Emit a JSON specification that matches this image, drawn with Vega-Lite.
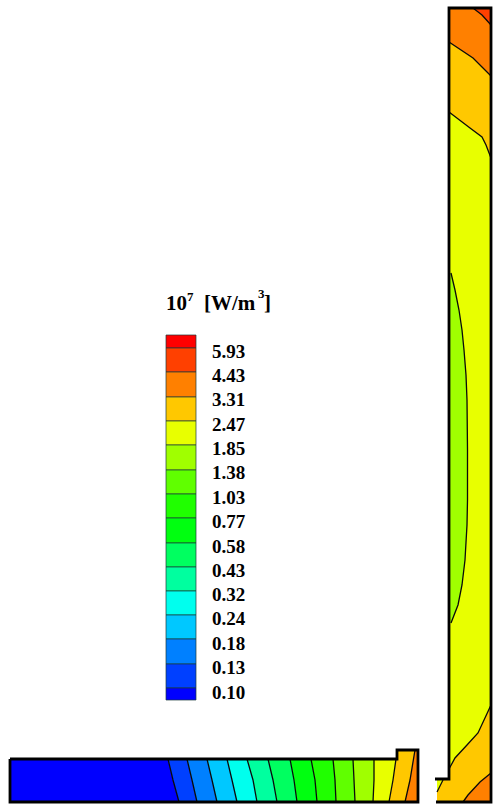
{
"$schema":"https://vega.github.io/schema/vega-lite/v6.json",
"width":493,"height":809,"padding":0,
"autosize":{"type":"none"},
"background":"white",
"config":{"view":{"stroke":null},"axis":{"disable":true}},
"datasets":{
"legendBands":[
{"level":"5.93+","x0":166,"x1":196,"y0":335,"y1":348},
{"level":"4.43","x0":166,"x1":196,"y0":348,"y1":372},
{"level":"3.31","x0":166,"x1":196,"y0":372,"y1":397},
{"level":"2.47","x0":166,"x1":196,"y0":397,"y1":421},
{"level":"1.85","x0":166,"x1":196,"y0":421,"y1":445},
{"level":"1.38","x0":166,"x1":196,"y0":445,"y1":470},
{"level":"1.03","x0":166,"x1":196,"y0":470,"y1":494},
{"level":"0.77","x0":166,"x1":196,"y0":494,"y1":518},
{"level":"0.58","x0":166,"x1":196,"y0":518,"y1":543},
{"level":"0.43","x0":166,"x1":196,"y0":543,"y1":567},
{"level":"0.32","x0":166,"x1":196,"y0":567,"y1":591},
{"level":"0.24","x0":166,"x1":196,"y0":591,"y1":615},
{"level":"0.18","x0":166,"x1":196,"y0":615,"y1":639},
{"level":"0.13","x0":166,"x1":196,"y0":639,"y1":664},
{"level":"0.10","x0":166,"x1":196,"y0":664,"y1":688},
{"level":"0.00","x0":166,"x1":196,"y0":688,"y1":700}
],
"legendLabels":[
{"t":"5.93","x":212,"y":352},{"t":"4.43","x":212,"y":376},{"t":"3.31","x":212,"y":400},{"t":"2.47","x":212,"y":425},
{"t":"1.85","x":212,"y":449},{"t":"1.38","x":212,"y":473},{"t":"1.03","x":212,"y":498},{"t":"0.77","x":212,"y":522},
{"t":"0.58","x":212,"y":547},{"t":"0.43","x":212,"y":571},{"t":"0.32","x":212,"y":595},{"t":"0.24","x":212,"y":619},
{"t":"0.18","x":212,"y":644},{"t":"0.13","x":212,"y":668},{"t":"0.10","x":212,"y":693}
],
"titleMain":[{"t":"10","x":166,"y":310},{"t":"[W/m","x":204,"y":310},{"t":"]","x":264,"y":310}],
"titleSup":[{"t":"7","x":187,"y":301},{"t":"3","x":258,"y":298}],
"rects":[
{"level":"1.85","x0":449,"x1":491,"y0":8,"y1":802},
{"level":"1.85","x0":437,"x1":449,"y0":779,"y1":802}
],
"bottomBands":[
{"level":"0.00","y":759,"x":10,"x2":168},{"level":"0.00","y":780,"x":10,"x2":173},{"level":"0.00","y":802,"x":10,"x2":179},
{"level":"0.10","y":759,"x":168,"x2":187},{"level":"0.10","y":780,"x":173,"x2":192},{"level":"0.10","y":802,"x":179,"x2":197},
{"level":"0.13","y":759,"x":187,"x2":207},{"level":"0.13","y":780,"x":192,"x2":212},{"level":"0.13","y":802,"x":197,"x2":217},
{"level":"0.18","y":759,"x":207,"x2":227},{"level":"0.18","y":780,"x":212,"x2":232},{"level":"0.18","y":802,"x":217,"x2":237},
{"level":"0.24","y":759,"x":227,"x2":247},{"level":"0.24","y":780,"x":232,"x2":253},{"level":"0.24","y":802,"x":237,"x2":257},
{"level":"0.32","y":759,"x":247,"x2":268},{"level":"0.32","y":780,"x":253,"x2":273},{"level":"0.32","y":802,"x":257,"x2":277},
{"level":"0.43","y":759,"x":268,"x2":290},{"level":"0.43","y":780,"x":273,"x2":294},{"level":"0.43","y":802,"x":277,"x2":297},
{"level":"0.58","y":759,"x":290,"x2":311},{"level":"0.58","y":780,"x":294,"x2":315},{"level":"0.58","y":802,"x":297,"x2":317},
{"level":"0.77","y":759,"x":311,"x2":333},{"level":"0.77","y":780,"x":315,"x2":335},{"level":"0.77","y":802,"x":317,"x2":336},
{"level":"1.03","y":759,"x":333,"x2":353},{"level":"1.03","y":780,"x":335,"x2":354},{"level":"1.03","y":802,"x":336,"x2":355},
{"level":"1.38","y":759,"x":353,"x2":374},{"level":"1.38","y":780,"x":354,"x2":374},{"level":"1.38","y":802,"x":355,"x2":373},
{"level":"1.85","y":759,"x":374,"x2":396},{"level":"1.85","y":780,"x":374,"x2":393},{"level":"1.85","y":802,"x":373,"x2":389},
{"level":"2.47","y":750,"x":398,"x2":415},{"level":"2.47","y":759,"x":396,"x2":413},{"level":"2.47","y":780,"x":393,"x2":410},{"level":"2.47","y":802,"x":389,"x2":405},
{"level":"3.31","y":750,"x":415,"x2":418},{"level":"3.31","y":759,"x":413,"x2":418},{"level":"3.31","y":780,"x":410,"x2":418},{"level":"3.31","y":802,"x":405,"x2":418}
],
"columnBands":[
{"level":"4.43","part":"a","x":473,"y":8,"y2":8},{"level":"4.43","part":"a","x":482,"y":8,"y2":15},{"level":"4.43","part":"a","x":491,"y":8,"y2":25},
{"level":"3.31","part":"a","x":449,"y":8,"y2":42},{"level":"3.31","part":"a","x":473,"y":8,"y2":58},{"level":"3.31","part":"a","x":482,"y":15,"y2":67},{"level":"3.31","part":"a","x":491,"y":25,"y2":76},
{"level":"2.47","part":"a","x":449,"y":42,"y2":112},{"level":"2.47","part":"a","x":470,"y":56,"y2":128},{"level":"2.47","part":"a","x":473,"y":58,"y2":130},{"level":"2.47","part":"a","x":482,"y":67,"y2":137},{"level":"2.47","part":"a","x":486,"y":71,"y2":145},{"level":"2.47","part":"a","x":491,"y":76,"y2":158},
{"level":"2.47","part":"b","x":437,"y":792,"y2":802},{"level":"2.47","part":"b","x":443,"y":780,"y2":802},{"level":"2.47","part":"b","x":449,"y":780,"y2":802},
{"level":"2.47","part":"c","x":449,"y":769,"y2":802},{"level":"2.47","part":"c","x":455,"y":758,"y2":802},{"level":"2.47","part":"c","x":467,"y":745,"y2":802},{"level":"2.47","part":"c","x":478,"y":733,"y2":802},{"level":"2.47","part":"c","x":491,"y":705,"y2":802},
{"level":"3.31","part":"d","x":463,"y":802,"y2":802},{"level":"3.31","part":"d","x":468,"y":795,"y2":802},{"level":"3.31","part":"d","x":480,"y":782,"y2":802},{"level":"3.31","part":"d","x":491,"y":773,"y2":802}
],
"lens":[
{"level":"1.38","y":273,"x":449,"x2":451},{"level":"1.38","y":290,"x":449,"x2":455},{"level":"1.38","y":310,"x":449,"x2":459},{"level":"1.38","y":330,"x":449,"x2":462},{"level":"1.38","y":350,"x":449,"x2":464},{"level":"1.38","y":375,"x":449,"x2":466},{"level":"1.38","y":400,"x":449,"x2":467},{"level":"1.38","y":450,"x":449,"x2":467.5},{"level":"1.38","y":500,"x":449,"x2":467.5},{"level":"1.38","y":525,"x":449,"x2":467},{"level":"1.38","y":560,"x":449,"x2":465},{"level":"1.38","y":585,"x":449,"x2":462},{"level":"1.38","y":605,"x":449,"x2":458},{"level":"1.38","y":623,"x":449,"x2":451}
],
"contours":[
{"id":"c1","o":1,"x":473,"y":8},{"id":"c1","o":2,"x":482,"y":15},{"id":"c1","o":3,"x":491,"y":25},
{"id":"c2","o":1,"x":449,"y":42},{"id":"c2","o":2,"x":473,"y":58},{"id":"c2","o":3,"x":482,"y":67},{"id":"c2","o":4,"x":491,"y":76},
{"id":"c3","o":1,"x":449,"y":112},{"id":"c3","o":2,"x":470,"y":128},{"id":"c3","o":3,"x":482,"y":137},{"id":"c3","o":4,"x":486,"y":145},{"id":"c3","o":5,"x":491,"y":158},
{"id":"c4","o":1,"x":451,"y":273},{"id":"c4","o":2,"x":455,"y":290},{"id":"c4","o":3,"x":459,"y":310},{"id":"c4","o":4,"x":462,"y":330},{"id":"c4","o":5,"x":464,"y":350},{"id":"c4","o":6,"x":466,"y":375},{"id":"c4","o":7,"x":467,"y":400},{"id":"c4","o":8,"x":467.5,"y":450},{"id":"c4","o":9,"x":467.5,"y":500},{"id":"c4","o":10,"x":467,"y":525},{"id":"c4","o":11,"x":465,"y":560},{"id":"c4","o":12,"x":462,"y":585},{"id":"c4","o":13,"x":458,"y":605},{"id":"c4","o":14,"x":451,"y":623},
{"id":"c5","o":1,"x":449,"y":769},{"id":"c5","o":2,"x":455,"y":758},{"id":"c5","o":3,"x":467,"y":745},{"id":"c5","o":4,"x":478,"y":733},{"id":"c5","o":5,"x":491,"y":705},
{"id":"c6","o":1,"x":437,"y":792},{"id":"c6","o":2,"x":443,"y":780},
{"id":"c7","o":1,"x":463,"y":802},{"id":"c7","o":2,"x":468,"y":795},{"id":"c7","o":3,"x":480,"y":782},{"id":"c7","o":4,"x":491,"y":773},
{"id":"b1","o":1,"x":168,"y":759},{"id":"b1","o":2,"x":173,"y":780},{"id":"b1","o":3,"x":179,"y":802},
{"id":"b2","o":1,"x":187,"y":759},{"id":"b2","o":2,"x":192,"y":780},{"id":"b2","o":3,"x":197,"y":802},
{"id":"b3","o":1,"x":207,"y":759},{"id":"b3","o":2,"x":212,"y":780},{"id":"b3","o":3,"x":217,"y":802},
{"id":"b4","o":1,"x":227,"y":759},{"id":"b4","o":2,"x":232,"y":780},{"id":"b4","o":3,"x":237,"y":802},
{"id":"b5","o":1,"x":247,"y":759},{"id":"b5","o":2,"x":253,"y":780},{"id":"b5","o":3,"x":257,"y":802},
{"id":"b6","o":1,"x":268,"y":759},{"id":"b6","o":2,"x":273,"y":780},{"id":"b6","o":3,"x":277,"y":802},
{"id":"b7","o":1,"x":290,"y":759},{"id":"b7","o":2,"x":294,"y":780},{"id":"b7","o":3,"x":297,"y":802},
{"id":"b8","o":1,"x":311,"y":759},{"id":"b8","o":2,"x":315,"y":780},{"id":"b8","o":3,"x":317,"y":802},
{"id":"b9","o":1,"x":333,"y":759},{"id":"b9","o":2,"x":335,"y":780},{"id":"b9","o":3,"x":336,"y":802},
{"id":"b10","o":1,"x":353,"y":759},{"id":"b10","o":2,"x":354,"y":780},{"id":"b10","o":3,"x":355,"y":802},
{"id":"b11","o":1,"x":374,"y":759},{"id":"b11","o":2,"x":374,"y":780},{"id":"b11","o":3,"x":373,"y":802},
{"id":"b12","o":1,"x":396,"y":759},{"id":"b12","o":2,"x":393,"y":780},{"id":"b12","o":3,"x":389,"y":802},
{"id":"b13","o":1,"x":415,"y":750},{"id":"b13","o":2,"x":410,"y":780},{"id":"b13","o":3,"x":405,"y":802}
],
"borders":[
{"id":"bar","o":1,"x":10,"y":759},{"id":"bar","o":2,"x":397,"y":759},{"id":"bar","o":3,"x":397,"y":750},{"id":"bar","o":4,"x":418,"y":750},{"id":"bar","o":5,"x":418,"y":802},{"id":"bar","o":6,"x":10,"y":802},{"id":"bar","o":7,"x":10,"y":759},
{"id":"col","o":1,"x":435,"y":779},{"id":"col","o":2,"x":449,"y":779},{"id":"col","o":3,"x":449,"y":8},{"id":"col","o":4,"x":491,"y":8},{"id":"col","o":5,"x":491,"y":802},{"id":"col","o":6,"x":436,"y":802}
]
},
"layer":[
{"data":{"name":"rects"},"mark":{"type":"rect"},
 "encoding":{"x":{"field":"x0","type":"quantitative","scale":{"domain":[0,493],"nice":false,"zero":false}},"x2":{"field":"x1"},
  "y":{"field":"y0","type":"quantitative","scale":{"domain":[809,0],"nice":false,"zero":false}},"y2":{"field":"y1"},
  "color":{"field":"level","type":"nominal","legend":null,"scale":{"domain":["5.93+","4.43","3.31","2.47","1.85","1.38","1.03","0.77","0.58","0.43","0.32","0.24","0.18","0.13","0.10","0.00"],"range":["#ff0000","#ff4000","#ff8000","#ffc800","#e8ff00","#a0ff00","#60ff00","#20ff00","#00ff10","#00ff60","#00ff9f","#00ffee","#00c8ff","#0080ff","#0040ff","#0000ff"]}}}},
{"data":{"name":"legendBands"},"mark":{"type":"rect","stroke":"#1a3a3a","strokeWidth":0.7},
 "encoding":{"x":{"field":"x0","type":"quantitative"},"x2":{"field":"x1"},"y":{"field":"y0","type":"quantitative"},"y2":{"field":"y1"},"color":{"field":"level","type":"nominal"}}},
{"data":{"name":"bottomBands"},"mark":{"type":"area","orient":"horizontal"},
 "encoding":{"y":{"field":"y","type":"quantitative"},"x":{"field":"x","type":"quantitative"},"x2":{"field":"x2"},"color":{"field":"level","type":"nominal"}}},
{"data":{"name":"columnBands"},"mark":{"type":"area","orient":"vertical"},
 "encoding":{"x":{"field":"x","type":"quantitative"},"y":{"field":"y","type":"quantitative"},"y2":{"field":"y2"},"color":{"field":"level","type":"nominal"},"detail":{"field":"part"}}},
{"data":{"name":"lens"},"mark":{"type":"area","orient":"horizontal"},
 "encoding":{"y":{"field":"y","type":"quantitative"},"x":{"field":"x","type":"quantitative"},"x2":{"field":"x2"},"color":{"field":"level","type":"nominal"}}},
{"data":{"name":"contours"},"mark":{"type":"line","color":"#0a0a0a","strokeWidth":1.3},
 "encoding":{"x":{"field":"x","type":"quantitative"},"y":{"field":"y","type":"quantitative"},"detail":{"field":"id"},"order":{"field":"o","type":"quantitative"}}},
{"data":{"name":"borders"},"mark":{"type":"line","color":"#000000","strokeWidth":2.8,"strokeJoin":"miter"},
 "encoding":{"x":{"field":"x","type":"quantitative"},"y":{"field":"y","type":"quantitative"},"detail":{"field":"id"},"order":{"field":"o","type":"quantitative"}}},
{"data":{"name":"legendLabels"},"mark":{"type":"text","font":"Liberation Serif","fontWeight":"bold","fontSize":19,"align":"left","baseline":"middle","color":"#000000"},
 "encoding":{"x":{"field":"x","type":"quantitative"},"y":{"field":"y","type":"quantitative"},"text":{"field":"t"}}},
{"data":{"name":"titleMain"},"mark":{"type":"text","font":"Liberation Serif","fontWeight":"bold","fontSize":21,"align":"left","baseline":"alphabetic","color":"#000000"},
 "encoding":{"x":{"field":"x","type":"quantitative"},"y":{"field":"y","type":"quantitative"},"text":{"field":"t"}}},
{"data":{"name":"titleSup"},"mark":{"type":"text","font":"Liberation Serif","fontWeight":"bold","fontSize":13,"align":"left","baseline":"alphabetic","color":"#000000"},
 "encoding":{"x":{"field":"x","type":"quantitative"},"y":{"field":"y","type":"quantitative"},"text":{"field":"t"}}}
]
}
